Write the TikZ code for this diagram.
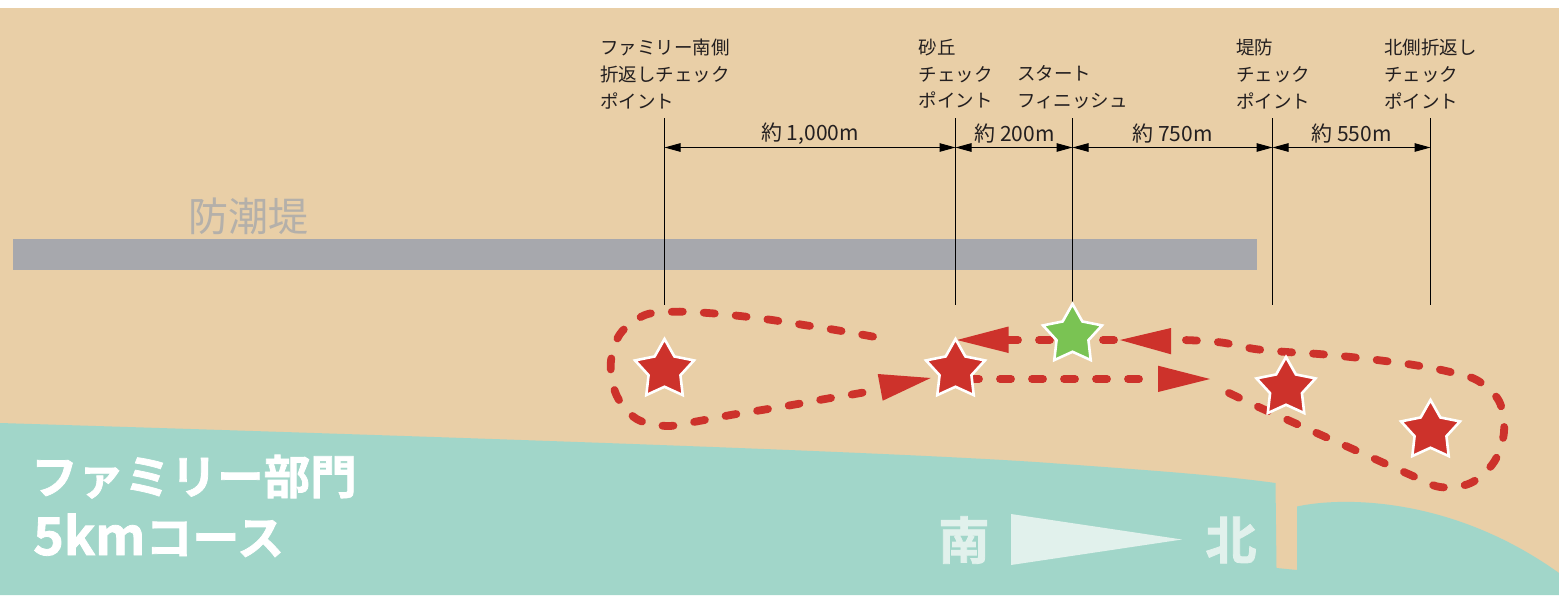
\documentclass[tikz,border=0pt]{standalone}
\usepackage{fontspec}
\setmainfont{Noto Sans CJK JP}
\newfontfamily\boldjp{Noto Sans CJK JP}[BoldFont={Noto Sans CJK JP Bold},BoldFeatures={FakeBold=1.6}]
\usetikzlibrary{arrows.meta,shapes.geometric}
\definecolor{sand}{HTML}{E9CFA7}
\definecolor{sea}{HTML}{A1D6C9}
\definecolor{wallgrey}{HTML}{A7A8AD}
\definecolor{walltext}{HTML}{B4B0AA}
\definecolor{course}{HTML}{CD322B}
\definecolor{startgreen}{HTML}{7AC353}
\definecolor{pale}{HTML}{E1F1EC}
\definecolor{ink}{HTML}{231F20}
\tikzset{
  flagstar/.style={star,star points=5,star point ratio=1.85,inner sep=0pt,minimum size=62pt,draw=white,line width=2.6pt,fill=course},
  tick/.style={draw=black,line width=1pt},
  dim/.style={draw=black,line width=1pt,{Triangle[length=16pt,width=8.5pt]}-{Triangle[length=16pt,width=8.5pt]}},
  ptlabel/.style={anchor=north west,inner sep=0pt,align=left,text=ink,font=\fontsize{18.5}{26.7}\selectfont},
  dimlabel/.style={inner sep=0pt,text=ink,font=\fontsize{21}{24}\selectfont},
  route/.style={draw=course,line width=7.8pt,line cap=round,dash pattern=on 11pt off 21pt},
  headtip/.style={fill=course},
  compass/.style={inner sep=0pt,text=pale,font=\boldjp\bfseries\fontsize{51}{54}\selectfont}
}
\begin{document}
\begin{tikzpicture}[x=1pt,y=-1pt]
\useasboundingbox (0,0) rectangle (1559,595);
\fill[white] (0,0) rectangle (1559,595);
\fill[sand] (0,8) rectangle (1559,595);
% sea
\fill[sea] (0,423) .. controls (420,436) and (900,452) .. (1050,463)
  .. controls (1130,469) and (1210,474) .. (1275.5,483) -- (1276.5,568) -- (1297,570) -- (1297,506.5)
  .. controls (1340,497) and (1450,495) .. (1559,573) -- (1559,595) -- (0,595) -- cycle;
% wall
\fill[wallgrey] (13,239) rectangle (1257,270);
\node[inner sep=0pt,text=walltext,font=\fontsize{40}{44}\selectfont] (walllabel) at (248,216) {防潮堤};
% tick lines
\coordinate (a0) at (664.5,118); \coordinate (a1) at (664.5,305);
\coordinate (b0) at (955.5,118); \coordinate (b1) at (955.5,305);
\coordinate (c0) at (1072.5,118); \coordinate (c1) at (1072.5,305);
\coordinate (d0) at (1272.5,118); \coordinate (d1) at (1272.5,305);
\coordinate (e0) at (1430.5,118); \coordinate (e1) at (1430.5,305);
\draw[tick] (a0) -- (a1);
\draw[tick] (b0) -- (b1);
\draw[tick] (c0) -- (c1);
\draw[tick] (d0) -- (d1);
\draw[tick] (e0) -- (e1);
\coordinate (am) at (664.5,147.5); \coordinate (bm) at (955.5,147.5);
\coordinate (cm) at (1072.5,147.5); \coordinate (dm) at (1272.5,147.5);
\coordinate (em) at (1430.5,147.5);
\draw[dim] (am) -- (bm);
\draw[dim] (bm) -- (cm);
\draw[dim] (cm) -- (dm);
\draw[dim] (dm) -- (em);
\node[dimlabel] (d1000) at (810,134) {約 1,000m};
\node[dimlabel] (d200) at (1014.5,134) {約 200m};
\node[dimlabel] (d750) at (1172.5,134) {約 750m};
\node[dimlabel] (d550) at (1351.5,134) {約 550m};
% point labels
\node[ptlabel] (p1) at (600,39) {ファミリー南側\\折返しチェック\\ポイント};
\node[ptlabel] (p2) at (918.5,39) {砂丘\\チェック\\ポイント};
\node[ptlabel] (p3) at (1017,65.7) {スタート\\フィニッシュ};
\node[ptlabel] (p4) at (1236,39) {堤防\\チェック\\ポイント};
\node[ptlabel] (p5) at (1384,39) {北側折返し\\チェック\\ポイント};
% course
\draw[route] plot[smooth,tension=.55] coordinates {(873,336.6) (835.7,330) (804,325) (772,320) (740,316) (708,313) (676,311.7) (645,315) (620,334) (610.7,364) (616.7,395.7) (636.7,419) (667,426) (699,421) (730.7,415) (762,410) (793.7,404.7) (825,399) (856.7,393.7) (882,389)};
\fill[headtip] (877.7,374) -- (882.7,400.7) -- (930.7,378) -- cycle;
\draw[route] (968,379) -- (1160,379);
\fill[headtip] (1158,365.7) -- (1158,392) -- (1210,379) -- cycle;
\draw[route] plot[smooth,tension=.55] coordinates {(1229,393) (1263,409) (1293,422.3) (1322.7,435.7) (1352,448.7) (1381,461.7) (1410,474.7) (1440,487) (1470.7,483) (1494,462) (1504,432) (1499,401) (1476.7,380) (1446,371) (1414,365) (1382.7,360.7) (1350.7,357) (1318.7,354) (1286.7,352) (1254.7,349) (1223,342.7) (1191.7,340.3) (1168,340)};
\fill[headtip] (1171,328) -- (1171,354.3) -- (1120,340) -- cycle;
\draw[route] (1114,340) -- (1005,340);
\fill[headtip] (1008.5,326.5) -- (1008.5,353) -- (957,340) -- cycle;
% stars
\node[flagstar] (s1) at (664.5,370) {};
\node[flagstar] (s2) at (955.5,370) {};
\node[flagstar,fill=startgreen] (s3) at (1072.5,335) {};
\node[flagstar] (s4) at (1286,388) {};
\node[flagstar] (s5) at (1430.5,431) {};
% titles
\node[anchor=base west,inner sep=0pt,text=white,font=\boldjp\bfseries\fontsize{46.5}{50}\selectfont] (t1) at (31,494) {ファミリー部門};
\node[anchor=base west,inner sep=0pt,text=white,font=\boldjp\bfseries\fontsize{52}{54}\selectfont] (t2) at (33,555) {5km\fontsize{47}{50}\selectfont コース};
% compass
\fill[pale] (1011,514) -- (1011,565) -- (1182,539.5) -- cycle;
\node[compass] (south) at (964,540) {南};
\node[compass] (north) at (1231,540) {北};
\end{tikzpicture}
\end{document}
